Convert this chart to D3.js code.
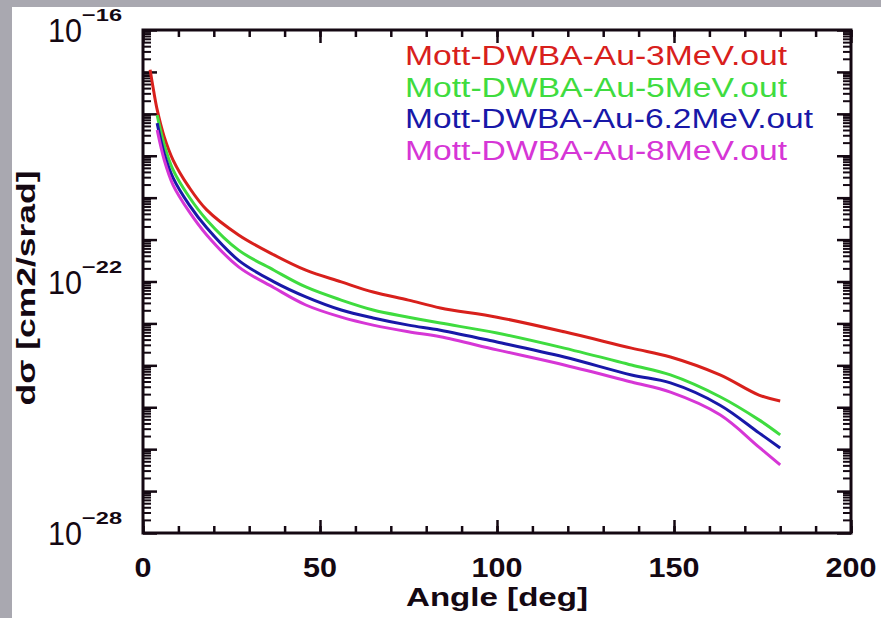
<!DOCTYPE html>
<html>
<head>
<meta charset="utf-8">
<script src="https://cdn.jsdelivr.net/npm/d3@7"></script>
<style>
  html, body { margin: 0; padding: 0; background: #a9a8b0; }
  svg { display: block; }
  text { font-family: "Liberation Sans", Arial, sans-serif; }
</style>
</head>
<body>
<div id="chart"></div>
<script>
// angles in degrees, cross sections in cm2/srad
const angles3MeV = [2, 3, 4, 6, 8.5, 13, 18, 27, 37, 46, 56, 65, 75, 84, 100, 119, 138, 149, 163, 174, 180];
const angles = [4, 6, 8.5, 13, 18, 27, 37, 46, 56, 65, 75, 84, 100, 119, 138, 149, 163, 174, 180];

const au3MeV = [1.12e-17, 3.55e-18, 1.26e-18, 2.82e-19, 7.9e-20, 1.78e-20, 5.1e-21, 1.29e-21, 4.3e-22, 1.86e-22,
  9.8e-23, 5.6e-23, 3.6e-23, 2.34e-23, 1.41e-23, 6.3e-24, 2.57e-24, 1.58e-24, 5.9e-25, 1.95e-25, 1.41e-25];
const au5MeV = [9.3e-19, 1.82e-19, 4.6e-20, 1.05e-20, 2.95e-21, 5.6e-22, 1.86e-22, 7.4e-23, 3.6e-23, 2.09e-23,
  1.41e-23, 1.02e-23, 5.9e-24, 2.57e-24, 1.02e-24, 5.9e-25, 1.78e-25, 5.0e-26, 2.19e-26];
const au62MeV = [6.0e-19, 1.12e-19, 2.95e-20, 6.8e-21, 1.91e-21, 3.2e-22, 9.8e-23, 4.3e-23, 2.09e-23, 1.35e-23,
  9.1e-24, 6.9e-24, 3.6e-24, 1.58e-24, 5.9e-25, 3.8e-25, 1.12e-25, 2.45e-26, 1.07e-26];
const au8MeV = [4.1e-19, 7.9e-20, 2.0e-20, 4.7e-21, 1.29e-21, 2.24e-22, 7.1e-23, 2.75e-23, 1.41e-23, 9.1e-24,
  6.3e-24, 4.8e-24, 2.34e-24, 1.02e-24, 4.0e-25, 2.29e-25, 6.6e-26, 1.12e-26, 4.2e-27];

const seriesNames = ["Mott-DWBA-Au-3MeV.out", "Mott-DWBA-Au-5MeV.out", "Mott-DWBA-Au-6.2MeV.out", "Mott-DWBA-Au-8MeV.out"];
const seriesColors = ["#d8201c", "#3fdc3f", "#1818a8", "#d636d6"];

const xTicks = [0, 50, 100, 150, 200];
const yLabelExps = [-16, -22, -28];

const width = 881, height = 618;
const x = d3.scaleLinear().domain([0, 200]).range([143, 851]);
const y = d3.scaleLog().domain([1e-28, 1e-16]).range([533, 30]);

const svg = d3.select("#chart").append("svg")
  .attr("width", width).attr("height", height);

svg.append("rect").attr("x", 12).attr("y", 7)
  .attr("width", width - 12).attr("height", height - 7).attr("fill", "#fff");

const ink = "#140812";

// ticks
const xMinor = d3.range(0, 201, 10);
const yDecades = d3.range(-28, -15).map(e => Math.pow(10, e));
const yMinor = [];
d3.range(-28, -16).forEach(e => { for (let k = 2; k <= 9; k++) yMinor.push(k * Math.pow(10, e)); });

function axisGroup(axis) {
  const g = svg.append("g").call(axis);
  g.select(".domain").remove();
  g.selectAll("line").attr("stroke", ink).attr("stroke-width", 2.5);
  g.selectAll("text").remove();
  return g;
}

const botG = "translate(0,533)", topG = "translate(0,30)";
axisGroup(d3.axisBottom(x).tickValues(xMinor).tickSize(-7)).attr("transform", botG);
axisGroup(d3.axisBottom(x).tickValues(xTicks).tickSize(-13)).attr("transform", botG);
axisGroup(d3.axisTop(x).tickValues(xMinor).tickSize(-7)).attr("transform", topG);
axisGroup(d3.axisTop(x).tickValues(xTicks).tickSize(-13)).attr("transform", topG);

axisGroup(d3.axisLeft(y).tickValues(yDecades).tickSize(-14)).attr("transform", "translate(143,0)");
axisGroup(d3.axisRight(y).tickValues(yDecades).tickSize(-14)).attr("transform", "translate(851,0)");

// log minor ticks (2..9 in each decade)
[[143, 1], [851, -1]].forEach(([x0, dir]) => {
  svg.append("g").selectAll("line").data(yMinor).enter().append("line")
    .attr("x1", x0).attr("x2", x0 + dir * 8)
    .attr("y1", d => y(d)).attr("y2", d => y(d))
    .attr("stroke", ink).attr("stroke-width", 2);
});

svg.append("rect").attr("x", 143).attr("y", 30)
  .attr("width", 851 - 143).attr("height", 533 - 30)
  .attr("fill", "none").attr("stroke", ink).attr("stroke-width", 3);

// x tick labels
svg.selectAll(".xl").data(xTicks).enter().append("text")
  .attr("x", d => x(d)).attr("y", 577)
  .attr("text-anchor", "middle")
  .attr("font-size", 28).attr("font-weight", "bold").attr("fill", ink)
  .attr("textLength", d => String(d).length * 17)
  .attr("lengthAdjust", "spacingAndGlyphs")
  .text(d => d);

// y tick labels 10^e
yLabelExps.forEach(e => {
  const yy = y(Math.pow(10, e));
  svg.append("text").attr("x", 82).attr("y", yy + 12)
    .attr("text-anchor", "end").attr("font-size", 33).attr("fill", ink)
    .attr("textLength", 34).attr("lengthAdjust", "spacingAndGlyphs")
    .text("10");
  svg.append("text").attr("x", 82).attr("y", yy - 9)
    .attr("font-size", 17).attr("font-weight", "bold").attr("fill", ink)
    .attr("textLength", 40).attr("lengthAdjust", "spacingAndGlyphs")
    .text("\u2212" + (-e));
});

// axis titles
svg.append("text").attr("x", 497).attr("y", 606)
  .attr("text-anchor", "middle").attr("font-size", 26).attr("font-weight", "bold").attr("fill", ink)
  .attr("textLength", 182).attr("lengthAdjust", "spacingAndGlyphs")
  .text("Angle [deg]");

svg.append("text").attr("transform", "translate(35,288) rotate(-90)")
  .attr("text-anchor", "middle").attr("font-size", 25).attr("font-weight", "bold").attr("fill", ink)
  .attr("textLength", 235).attr("lengthAdjust", "spacingAndGlyphs")
  .text("d\u03C3  [cm2/srad]");

// curves
const line = d3.line()
  .x(d => x(d[0])).y(d => y(d[1]))
  .curve(d3.curveCatmullRom.alpha(0.5));

const series = [
  d3.zip(angles3MeV, au3MeV),
  d3.zip(angles, au5MeV),
  d3.zip(angles, au62MeV),
  d3.zip(angles, au8MeV)
];

svg.selectAll(".curve").data(series).enter().append("path")
  .attr("d", line)
  .attr("fill", "none")
  .attr("stroke", (d, i) => seriesColors[i])
  .attr("stroke-width", 3);

// legend
const legendLen = [382, 382, 408, 382];
svg.selectAll(".leg").data(seriesNames).enter().append("text")
  .attr("x", 405).attr("y", (d, i) => 65 + i * 31.5)
  .attr("font-size", 27).attr("fill", (d, i) => seriesColors[i])
  .attr("textLength", (d, i) => legendLen[i])
  .attr("lengthAdjust", "spacingAndGlyphs")
  .text(d => d);
</script>
</body>
</html>
